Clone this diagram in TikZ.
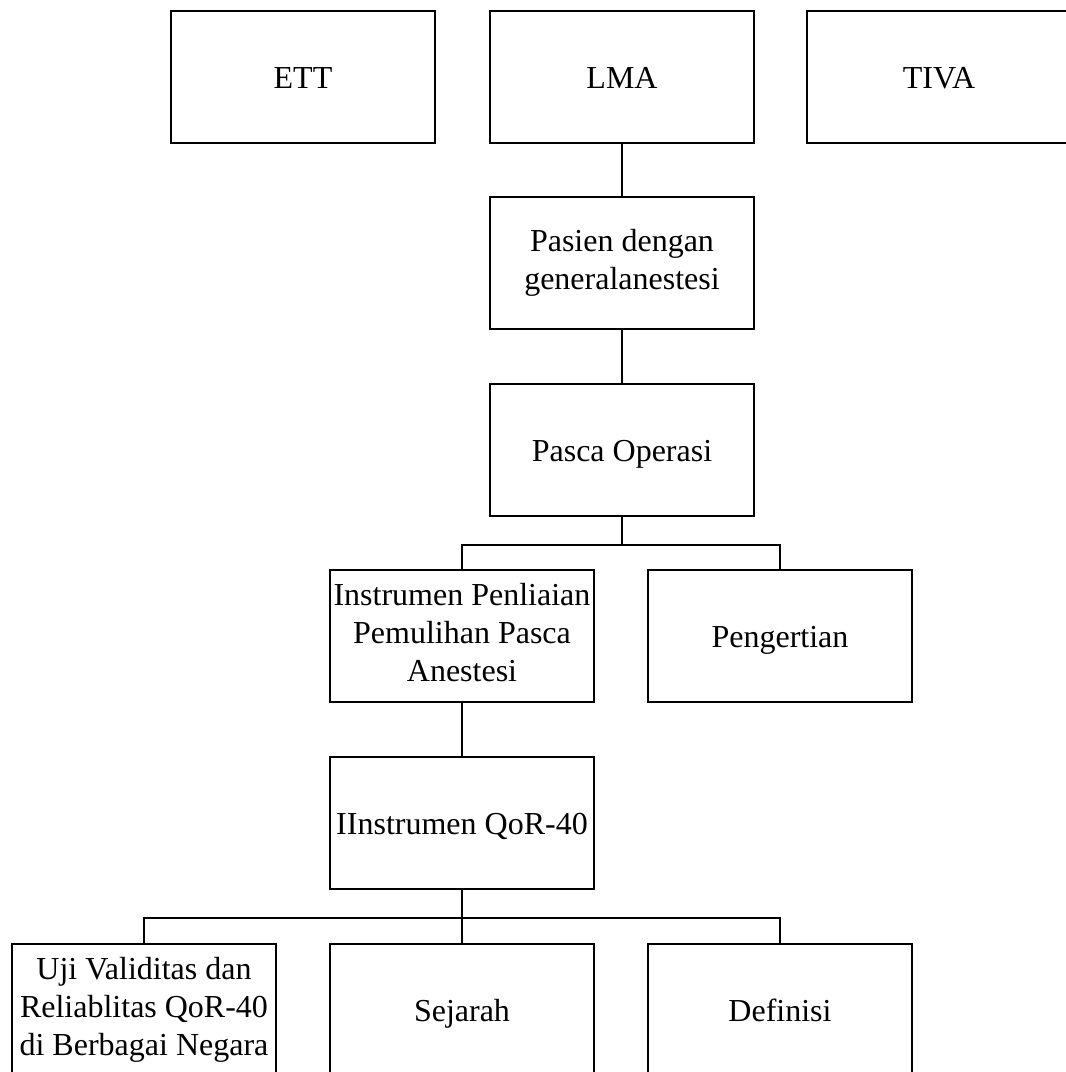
\documentclass[tikz,border=0pt]{standalone}
\usepackage{fontspec}
\setmainfont{Liberation Serif}
\usepackage{tikz}
\usetikzlibrary{positioning, calc}

\newcommand{\boxstrut}{\rule[-5.5pt]{0pt}{28.5pt}}

\tikzset{
  mapbox/.style={draw=black, line width=1.5pt, fill=white, minimum width=198pt, minimum height=99pt,
    align=center, inner sep=2pt, font=\fontsize{24}{28.5}\selectfont,
    execute at begin node=\boxstrut, execute at end node=\boxstrut},
  link/.style={draw=black, line width=1.5pt}
}

\begin{document}
\begin{tikzpicture}[x=0.75pt, y=-0.75pt]
  \clip (0,0) rectangle (1066,1072);
  \fill[white] (0,0) rectangle (1066,1072);

  % row 1
  \node[mapbox] (ett)  at (303,77) {ETT};
  \node[mapbox] (lma)  at (622,77) {LMA};
  \node[mapbox] (tiva) at (939,77) {TIVA};

  % main column
  \node[mapbox] (pasien) at (622,263) {Pasien dengan\\generalanestesi};
  \node[mapbox] (pasca)  at (622,450) {Pasca Operasi};

  \node[mapbox] (instrumen)  at (462,636) {Instrumen Penliaian\\Pemulihan Pasca\\Anestesi};
  \node[mapbox] (pengertian) at (780,636) {Pengertian};

  \node[mapbox] (qor) at (462,823) {IInstrumen QoR-40};

  % bottom row
  \node[mapbox] (uji)      at (144,1010) {Uji Validitas dan\\Reliablitas QoR-40\\di Berbagai Negara};
  \node[mapbox] (sejarah)  at (462,1010) {Sejarah};
  \node[mapbox] (definisi) at (780,1010) {Definisi};

  % connectors
  \draw[link] (lma.south) -- (pasien.north);
  \draw[link] (pasien.south) -- (pasca.north);

  \draw[link] (pasca.south) -- ++(0,28) coordinate (busA);
  \draw[link] (busA) -| (instrumen.north);
  \draw[link] (busA) -| (pengertian.north);

  \draw[link] (instrumen.south) -- (qor.north);

  \draw[link] (qor.south) -- ++(0,28) coordinate (busB);
  \draw[link] (busB) -| (uji.north);
  \draw[link] (busB) -- (sejarah.north);
  \draw[link] (busB) -| (definisi.north);
\end{tikzpicture}
\end{document}
